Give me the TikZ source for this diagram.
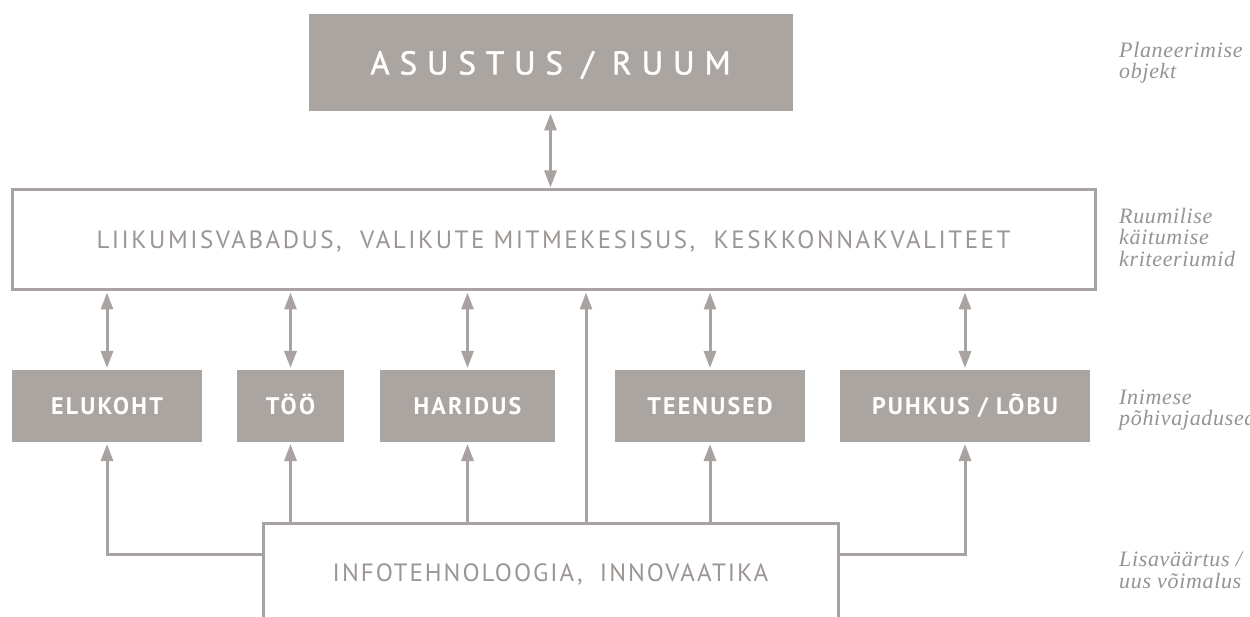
\documentclass[tikz,border=0pt]{standalone}
\usepackage{fontspec}
\usetikzlibrary{arrows.meta}
\newfontfamily\titlefont[LetterSpace=30,FakeBold=1.3]{PT Sans}
\newfontfamily\boxfont[LetterSpace=9]{PT Sans Bold}
\newfontfamily\midfont[LetterSpace=10]{PT Sans}
\newfontfamily\infofont[LetterSpace=8]{PT Sans}
\newfontfamily\labfont[LetterSpace=3]{Liberation Serif Italic}
\definecolor{boxgray}{RGB}{171,165,162}
\definecolor{linegray}{RGB}{168,163,160}
\definecolor{textgray}{RGB}{155,150,147}
\definecolor{labgray}{RGB}{152,147,147}
\tikzset{
  graybox/.style={fill=boxgray, draw=none, text=white, inner sep=0pt, outer sep=1pt, text depth=0pt},
  whitebox/.style={fill=white, draw=linegray, line width=3pt, text=textgray, inner sep=0pt,
    text depth=0pt, text height=17.5pt, font=\midfont\fontsize{25}{25}\selectfont},
  conn/.style={draw=linegray, line width=3pt},
  tip/.tip={Triangle[length=17pt,width=12pt]},
  both/.style={conn, tip-tip, shorten <=1pt, shorten >=1pt},
  upto/.style={conn, -tip, shorten >=1pt},
  sidelabel/.style={anchor=north west, align=left, text=labgray, inner sep=0pt,
    font=\labfont\fontsize{22}{21.5}\selectfont},
}
\begin{document}
\begin{tikzpicture}[x=1pt,y=-1pt]
\useasboundingbox (0,0) rectangle (1250,617);
\clip (0,0) rectangle (1250,617);
\fill[white] (0,0) rectangle (1250,617);

\node[graybox, minimum width=484pt, minimum height=97pt, text height=23pt,
      font=\titlefont\fontsize{33}{33}\selectfont] (top) at (550.5,63) {ASUSTUS / RUUM};

\node[whitebox, minimum width=1083pt, minimum height=100pt] (mid) at (553.5,240)
      {LIIKUMISVABADUS,\ \ VALIKUTE MITMEKESISUS,\ \ KESKKONNAKVALITEET};

\begin{scope}[every node/.append style={graybox, minimum height=72pt, text height=16.8pt,
      font=\boxfont\fontsize{24}{24}\selectfont}]
\node[minimum width=190pt] (elu) at (107,406) {ELUKOHT};
\node[minimum width=107pt] (too) at (290.5,406) {TÖÖ};
\node[minimum width=175pt] (har) at (467.5,406) {HARIDUS};
\node[minimum width=190pt] (tee) at (710,406) {TEENUSED};
\node[minimum width=250pt] (puh) at (965,406) {PUHKUS / LÕBU};
\end{scope}

\node[whitebox, minimum width=575pt, minimum height=100pt,
      font=\infofont\fontsize{25}{25}\selectfont] (info) at (550.5,573)
      {INFOTEHNOLOOGIA,\ \ INNOVAATIKA};

\coordinate (lx) at (586,0);
\coordinate (ly) at (0,554);

\draw[both] (top.south) -- (mid.north -| top.south);
\foreach \b in {elu,too,har,tee,puh}
  \draw[both] (mid.south -| \b.north) -- (\b.north);
\foreach \b in {too,har,tee}
  \draw[upto] (info.north -| \b.south) -- (\b.south);
\draw[upto] (info.north -| lx) -- (mid.south -| lx);
\draw[upto] (ly -| info.west) -- (ly -| elu.south) -- (elu.south);
\draw[upto] (ly -| info.east) -- (ly -| puh.south) -- (puh.south);

\node[sidelabel] (l1) at (1119,42) {Planeerimise\\objekt};
\node[sidelabel] (l2) at (1119,208) {Ruumilise\\käitumise\\kriteeriumid};
\node[sidelabel] (l3) at (1119,389.5) {Inimese\\põhivajadused};
\node[sidelabel] (l4) at (1119,552) {Lisaväärtus /\\uus võimalus};
\end{tikzpicture}
\end{document}
